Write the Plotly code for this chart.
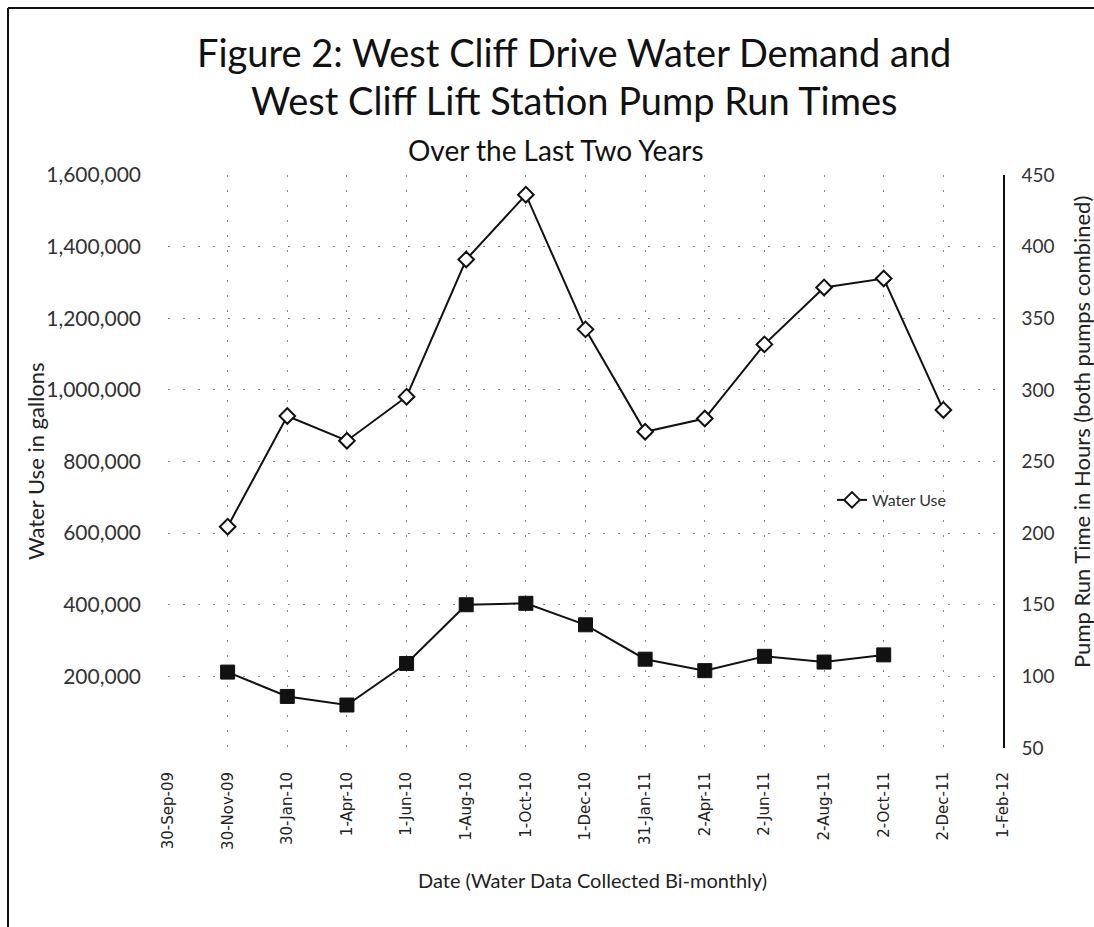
import plotly.graph_objects as go

# ---- data ----
tick_dates = ["2009-09-30", "2009-11-30", "2010-01-30", "2010-04-01", "2010-06-01",
              "2010-08-01", "2010-10-01", "2010-12-01", "2011-01-31", "2011-04-02",
              "2011-06-02", "2011-08-02", "2011-10-02", "2011-12-02", "2012-02-01"]
tick_labels = ["30-Sep-09", "30-Nov-09", "30-Jan-10", "1-Apr-10", "1-Jun-10",
               "1-Aug-10", "1-Oct-10", "1-Dec-10", "31-Jan-11", "2-Apr-11",
               "2-Jun-11", "2-Aug-11", "2-Oct-11", "2-Dec-11", "1-Feb-12"]

water_dates = ["2009-11-30", "2010-01-30", "2010-04-01", "2010-06-01", "2010-08-01",
               "2010-10-01", "2010-12-01", "2011-01-31", "2011-04-02", "2011-06-02",
               "2011-08-02", "2011-10-02", "2011-12-02"]
water_use = [618000, 927000, 858000, 981000, 1364000, 1545000, 1169000,
             883000, 920000, 1127000, 1286000, 1311000, 944000]

pump_dates = ["2009-11-30", "2010-01-30", "2010-04-01", "2010-06-01", "2010-08-01",
              "2010-10-01", "2010-12-01", "2011-01-31", "2011-04-02", "2011-06-02",
              "2011-08-02", "2011-10-02"]
pump_hours = [103, 86, 80, 109, 150, 151, 136, 112, 104, 114, 110, 115]

left_ticks = [0, 200000, 400000, 600000, 800000, 1000000, 1200000, 1400000, 1600000]
left_labels = ["", "200,000", "400,000", "600,000", "800,000", "1,000,000",
               "1,200,000", "1,400,000", "1,600,000"]
right_ticks = [50, 100, 150, 200, 250, 300, 350, 400, 450]

# ---- geometry helpers (plot area in pixels) ----
W, H = 1094, 927
L, R, T, B = 168, 1003, 175, 748
def px(x):
    return (x - L) / (R - L)
def py(y):
    return (B - y) / (B - T)

FONT = "Lato, 'Open Sans', sans-serif"
GRID = dict(showgrid=True, gridcolor="#8a8a8a", gridwidth=1, griddash="2px,13px")

def note(text, x, y, size, angle=0, color="#222"):
    return dict(text=text, x=px(x), y=py(y), xref="paper", yref="paper",
                xanchor="center", yanchor="middle", showarrow=False,
                textangle=angle, font=dict(size=size, color=color))

fig = go.Figure()
fig.add_trace(go.Scatter(
    x=pump_dates, y=pump_hours, yaxis="y2", name="Pump Run Time",
    mode="lines+markers", showlegend=False,
    line=dict(color="#111", width=2),
    marker=dict(symbol="square", size=14, color="#111", line=dict(color="#111", width=1)),
))
fig.add_trace(go.Scatter(
    x=water_dates, y=water_use, name="Water Use",
    mode="lines+markers",
    line=dict(color="#111", width=2),
    marker=dict(symbol="diamond", size=12, color="white", line=dict(color="#111", width=2)),
))

fig.update_layout(
    width=W, height=H,
    margin=dict(l=L, r=W - R, t=T, b=H - B),
    paper_bgcolor="white", plot_bgcolor="white",
    font=dict(family=FONT, color="#222"),
    xaxis=dict(
        type="date", range=[tick_dates[0], tick_dates[-1]],
        tickmode="array", tickvals=tick_dates, ticktext=tick_labels,
        tickangle=-90, tickfont=dict(family="DejaVu Sans", size=15, color="#222"),
        ticklabelstandoff=20, showline=False, zeroline=False, **GRID,
    ),
    yaxis=dict(
        range=[0, 1600000], tickmode="array", tickvals=left_ticks, ticktext=left_labels,
        tickfont=dict(size=21, color="#333"), ticklabelstandoff=26,
        showline=False, zeroline=False, **GRID,
    ),
    yaxis2=dict(
        overlaying="y", side="right", range=[50, 450],
        tickmode="array", tickvals=right_ticks,
        tickfont=dict(size=19, color="#333"), ticklabelstandoff=13,
        showline=True, linecolor="#111", linewidth=1.5, showgrid=False, zeroline=False,
    ),
    legend=dict(x=px(832), y=py(500), xanchor="left", yanchor="middle",
                bgcolor="rgba(0,0,0,0)", font=dict(size=16, color="#333"),
                itemwidth=30),
    shapes=[
        dict(type="line", xref="paper", yref="paper", x0=px(8), x1=px(1094),
             y0=py(8), y1=py(8), line=dict(color="#111", width=2)),
        dict(type="line", xref="paper", yref="paper", x0=px(8), x1=px(8),
             y0=py(8), y1=py(927), line=dict(color="#111", width=2)),
    ],
    annotations=[
        note("Figure 2: West Cliff Drive Water Demand and", 574, 52, 38, color="#111"),
        note("West Cliff Lift Station Pump Run Times", 574, 100, 38, color="#111"),
        note("Over the Last Two Years", 556, 150, 28, color="#111"),
        note("Water Use in gallons", 35, 461, 22, angle=-90),
        note("Pump Run Time in Hours (both pumps combined)", 1081, 432, 22, angle=-90),
        note("Date (Water Data Collected Bi-monthly)", 592, 880, 20),
    ],
)

fig.write_html("out.html", config={"displayModeBar": False},
               post_script="document.body.style.margin='0';")
